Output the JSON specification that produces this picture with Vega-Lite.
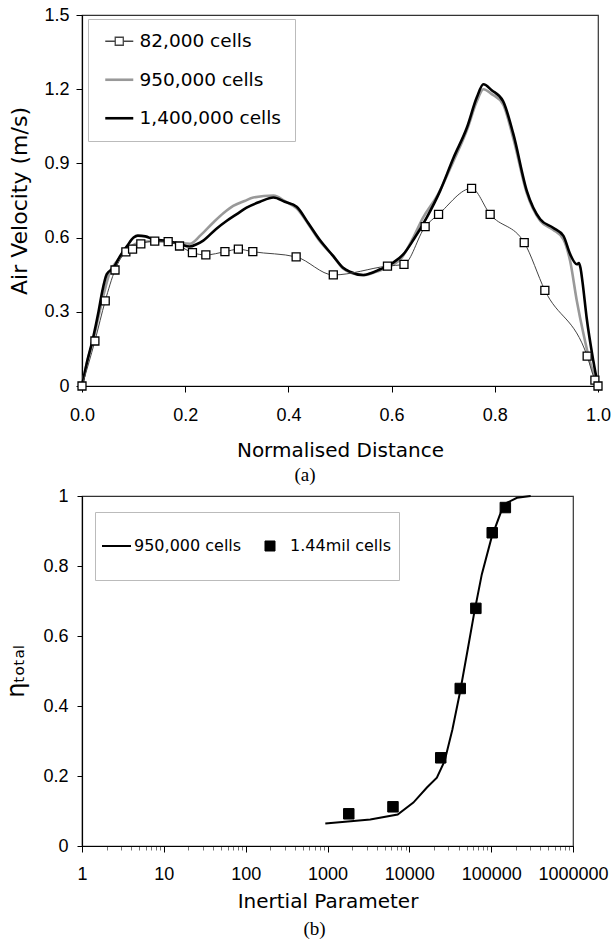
{
  "$schema": "https://vega.github.io/schema/vega-lite/v6.json",
  "background": "white",
  "padding": {"left": 4, "top": 5, "right": 0, "bottom": 0},
  "bounds": "flush",
  "spacing": 110,
  "config": {
    "view": {"stroke": "#333333", "strokeWidth": 1.2},
    "axis": {"grid": false, "labelFlush": false, "domainColor": "#000000", "domainWidth": 1.2, "tickColor": "#000000", "tickSize": 6, "labelFont": "Liberation Sans", "labelFontSize": 18, "labelColor": "#000000", "titleFont": "DejaVu Sans", "titleFontSize": 20, "titleFontWeight": "normal", "titleColor": "#000000"}
  },
  "resolve": {"scale": {"color": "independent"}, "legend": {"color": "independent"}},
  "datasets": {
    "top": [
      {"d": 0.0, "v": 0.0, "s": "950,000 cells"},
      {"d": 0.009, "v": 0.09, "s": "950,000 cells"},
      {"d": 0.021, "v": 0.18, "s": "950,000 cells"},
      {"d": 0.033, "v": 0.29, "s": "950,000 cells"},
      {"d": 0.042, "v": 0.37, "s": "950,000 cells"},
      {"d": 0.054, "v": 0.46, "s": "950,000 cells"},
      {"d": 0.066, "v": 0.5, "s": "950,000 cells"},
      {"d": 0.08, "v": 0.535, "s": "950,000 cells"},
      {"d": 0.095, "v": 0.565, "s": "950,000 cells"},
      {"d": 0.112, "v": 0.58, "s": "950,000 cells"},
      {"d": 0.14, "v": 0.585, "s": "950,000 cells"},
      {"d": 0.17, "v": 0.582, "s": "950,000 cells"},
      {"d": 0.19, "v": 0.578, "s": "950,000 cells"},
      {"d": 0.209, "v": 0.575, "s": "950,000 cells"},
      {"d": 0.23, "v": 0.61, "s": "950,000 cells"},
      {"d": 0.254, "v": 0.66, "s": "950,000 cells"},
      {"d": 0.275, "v": 0.7, "s": "950,000 cells"},
      {"d": 0.293, "v": 0.728, "s": "950,000 cells"},
      {"d": 0.315, "v": 0.748, "s": "950,000 cells"},
      {"d": 0.332, "v": 0.762, "s": "950,000 cells"},
      {"d": 0.371, "v": 0.77, "s": "950,000 cells"},
      {"d": 0.395, "v": 0.745, "s": "950,000 cells"},
      {"d": 0.416, "v": 0.718, "s": "950,000 cells"},
      {"d": 0.44, "v": 0.65, "s": "950,000 cells"},
      {"d": 0.461, "v": 0.585, "s": "950,000 cells"},
      {"d": 0.487, "v": 0.525, "s": "950,000 cells"},
      {"d": 0.506, "v": 0.475, "s": "950,000 cells"},
      {"d": 0.525, "v": 0.455, "s": "950,000 cells"},
      {"d": 0.545, "v": 0.448, "s": "950,000 cells"},
      {"d": 0.567, "v": 0.46, "s": "950,000 cells"},
      {"d": 0.59, "v": 0.478, "s": "950,000 cells"},
      {"d": 0.62, "v": 0.52, "s": "950,000 cells"},
      {"d": 0.642, "v": 0.6, "s": "950,000 cells"},
      {"d": 0.661, "v": 0.681, "s": "950,000 cells"},
      {"d": 0.69, "v": 0.775, "s": "950,000 cells"},
      {"d": 0.72, "v": 0.91, "s": "950,000 cells"},
      {"d": 0.746, "v": 1.035, "s": "950,000 cells"},
      {"d": 0.765, "v": 1.15, "s": "950,000 cells"},
      {"d": 0.778, "v": 1.2, "s": "950,000 cells"},
      {"d": 0.794, "v": 1.18, "s": "950,000 cells"},
      {"d": 0.816, "v": 1.139, "s": "950,000 cells"},
      {"d": 0.836, "v": 1.0, "s": "950,000 cells"},
      {"d": 0.862, "v": 0.78, "s": "950,000 cells"},
      {"d": 0.888, "v": 0.668, "s": "950,000 cells"},
      {"d": 0.913, "v": 0.632, "s": "950,000 cells"},
      {"d": 0.933, "v": 0.593, "s": "950,000 cells"},
      {"d": 0.946, "v": 0.505, "s": "950,000 cells"},
      {"d": 0.959, "v": 0.344, "s": "950,000 cells"},
      {"d": 0.972, "v": 0.209, "s": "950,000 cells"},
      {"d": 0.984, "v": 0.101, "s": "950,000 cells"},
      {"d": 1.0, "v": 0.0, "s": "950,000 cells"},
      {"d": 0.0, "v": 0.0, "s": "1,400,000 cells"},
      {"d": 0.009, "v": 0.09, "s": "1,400,000 cells"},
      {"d": 0.021, "v": 0.19, "s": "1,400,000 cells"},
      {"d": 0.032, "v": 0.3, "s": "1,400,000 cells"},
      {"d": 0.039, "v": 0.38, "s": "1,400,000 cells"},
      {"d": 0.048, "v": 0.452, "s": "1,400,000 cells"},
      {"d": 0.061, "v": 0.478, "s": "1,400,000 cells"},
      {"d": 0.074, "v": 0.526, "s": "1,400,000 cells"},
      {"d": 0.087, "v": 0.565, "s": "1,400,000 cells"},
      {"d": 0.1, "v": 0.6, "s": "1,400,000 cells"},
      {"d": 0.108, "v": 0.608, "s": "1,400,000 cells"},
      {"d": 0.123, "v": 0.605, "s": "1,400,000 cells"},
      {"d": 0.138, "v": 0.593, "s": "1,400,000 cells"},
      {"d": 0.165, "v": 0.586, "s": "1,400,000 cells"},
      {"d": 0.188, "v": 0.575, "s": "1,400,000 cells"},
      {"d": 0.209, "v": 0.564, "s": "1,400,000 cells"},
      {"d": 0.222, "v": 0.573, "s": "1,400,000 cells"},
      {"d": 0.235, "v": 0.588, "s": "1,400,000 cells"},
      {"d": 0.26, "v": 0.635, "s": "1,400,000 cells"},
      {"d": 0.28, "v": 0.667, "s": "1,400,000 cells"},
      {"d": 0.3, "v": 0.695, "s": "1,400,000 cells"},
      {"d": 0.319, "v": 0.721, "s": "1,400,000 cells"},
      {"d": 0.345, "v": 0.745, "s": "1,400,000 cells"},
      {"d": 0.371, "v": 0.762, "s": "1,400,000 cells"},
      {"d": 0.393, "v": 0.745, "s": "1,400,000 cells"},
      {"d": 0.416, "v": 0.725, "s": "1,400,000 cells"},
      {"d": 0.438, "v": 0.66, "s": "1,400,000 cells"},
      {"d": 0.461, "v": 0.59, "s": "1,400,000 cells"},
      {"d": 0.487, "v": 0.525, "s": "1,400,000 cells"},
      {"d": 0.506, "v": 0.478, "s": "1,400,000 cells"},
      {"d": 0.519, "v": 0.462, "s": "1,400,000 cells"},
      {"d": 0.545, "v": 0.449, "s": "1,400,000 cells"},
      {"d": 0.578, "v": 0.472, "s": "1,400,000 cells"},
      {"d": 0.603, "v": 0.499, "s": "1,400,000 cells"},
      {"d": 0.623, "v": 0.533, "s": "1,400,000 cells"},
      {"d": 0.642, "v": 0.59, "s": "1,400,000 cells"},
      {"d": 0.668, "v": 0.681, "s": "1,400,000 cells"},
      {"d": 0.694, "v": 0.789, "s": "1,400,000 cells"},
      {"d": 0.72, "v": 0.923, "s": "1,400,000 cells"},
      {"d": 0.746, "v": 1.045, "s": "1,400,000 cells"},
      {"d": 0.765, "v": 1.166, "s": "1,400,000 cells"},
      {"d": 0.778, "v": 1.22, "s": "1,400,000 cells"},
      {"d": 0.794, "v": 1.196, "s": "1,400,000 cells"},
      {"d": 0.816, "v": 1.152, "s": "1,400,000 cells"},
      {"d": 0.836, "v": 1.018, "s": "1,400,000 cells"},
      {"d": 0.862, "v": 0.789, "s": "1,400,000 cells"},
      {"d": 0.888, "v": 0.674, "s": "1,400,000 cells"},
      {"d": 0.913, "v": 0.64, "s": "1,400,000 cells"},
      {"d": 0.933, "v": 0.607, "s": "1,400,000 cells"},
      {"d": 0.946, "v": 0.533, "s": "1,400,000 cells"},
      {"d": 0.959, "v": 0.492, "s": "1,400,000 cells"},
      {"d": 0.963, "v": 0.497, "s": "1,400,000 cells"},
      {"d": 0.966, "v": 0.478, "s": "1,400,000 cells"},
      {"d": 0.97, "v": 0.42, "s": "1,400,000 cells"},
      {"d": 0.978, "v": 0.276, "s": "1,400,000 cells"},
      {"d": 0.991, "v": 0.101, "s": "1,400,000 cells"},
      {"d": 1.0, "v": 0.0, "s": "1,400,000 cells"},
      {"d": 0.0, "v": 0.0, "s": "82,000 cells"},
      {"d": 0.025, "v": 0.182, "s": "82,000 cells"},
      {"d": 0.045, "v": 0.344, "s": "82,000 cells"},
      {"d": 0.064, "v": 0.469, "s": "82,000 cells"},
      {"d": 0.085, "v": 0.542, "s": "82,000 cells"},
      {"d": 0.098, "v": 0.553, "s": "82,000 cells"},
      {"d": 0.114, "v": 0.575, "s": "82,000 cells"},
      {"d": 0.141, "v": 0.586, "s": "82,000 cells"},
      {"d": 0.167, "v": 0.584, "s": "82,000 cells"},
      {"d": 0.189, "v": 0.566, "s": "82,000 cells"},
      {"d": 0.214, "v": 0.539, "s": "82,000 cells"},
      {"d": 0.24, "v": 0.53, "s": "82,000 cells"},
      {"d": 0.277, "v": 0.543, "s": "82,000 cells"},
      {"d": 0.303, "v": 0.553, "s": "82,000 cells"},
      {"d": 0.331, "v": 0.543, "s": "82,000 cells"},
      {"d": 0.415, "v": 0.522, "s": "82,000 cells"},
      {"d": 0.487, "v": 0.449, "s": "82,000 cells"},
      {"d": 0.592, "v": 0.485, "s": "82,000 cells"},
      {"d": 0.624, "v": 0.492, "s": "82,000 cells"},
      {"d": 0.665, "v": 0.644, "s": "82,000 cells"},
      {"d": 0.691, "v": 0.694, "s": "82,000 cells"},
      {"d": 0.755, "v": 0.799, "s": "82,000 cells"},
      {"d": 0.791, "v": 0.694, "s": "82,000 cells"},
      {"d": 0.857, "v": 0.58, "s": "82,000 cells"},
      {"d": 0.897, "v": 0.387, "s": "82,000 cells"},
      {"d": 0.979, "v": 0.121, "s": "82,000 cells"},
      {"d": 0.994, "v": 0.024, "s": "82,000 cells"},
      {"d": 1.0, "v": 0.0, "s": "82,000 cells"}
    ],
    "bottom": [
      {"p": 940, "e": 0.064, "s2": "950,000 cells"},
      {"p": 1920, "e": 0.071, "s2": "950,000 cells"},
      {"p": 3330, "e": 0.076, "s2": "950,000 cells"},
      {"p": 7200, "e": 0.09, "s2": "950,000 cells"},
      {"p": 11200, "e": 0.124, "s2": "950,000 cells"},
      {"p": 16400, "e": 0.167, "s2": "950,000 cells"},
      {"p": 21700, "e": 0.195, "s2": "950,000 cells"},
      {"p": 27000, "e": 0.243, "s2": "950,000 cells"},
      {"p": 33600, "e": 0.333, "s2": "950,000 cells"},
      {"p": 41900, "e": 0.443, "s2": "950,000 cells"},
      {"p": 52200, "e": 0.567, "s2": "950,000 cells"},
      {"p": 61600, "e": 0.662, "s2": "950,000 cells"},
      {"p": 76800, "e": 0.776, "s2": "950,000 cells"},
      {"p": 101000, "e": 0.881, "s2": "950,000 cells"},
      {"p": 133000, "e": 0.957, "s2": "950,000 cells"},
      {"p": 157000, "e": 0.981, "s2": "950,000 cells"},
      {"p": 207000, "e": 0.995, "s2": "950,000 cells"},
      {"p": 304000, "e": 1.0, "s2": "950,000 cells"},
      {"p": 1820, "e": 0.092, "s2": "1.44mil cells"},
      {"p": 6310, "e": 0.112, "s2": "1.44mil cells"},
      {"p": 24200, "e": 0.252, "s2": "1.44mil cells"},
      {"p": 41900, "e": 0.45, "s2": "1.44mil cells"},
      {"p": 65000, "e": 0.679, "s2": "1.44mil cells"},
      {"p": 103000, "e": 0.895, "s2": "1.44mil cells"},
      {"p": 149000, "e": 0.967, "s2": "1.44mil cells"}
    ]
  },
  "vconcat": [
    {
      "width": 516,
      "height": 371,
      "title": {"text": "(a)", "orient": "bottom", "font": "Liberation Serif", "fontSize": 19, "fontWeight": "normal", "color": "#000000", "dx": -35, "offset": 6},
      "data": {"name": "top"},
      "encoding": {
        "x": {"field": "d", "type": "quantitative", "scale": {"domain": [0, 1], "nice": false},
              "axis": {"title": "Normalised Distance", "values": [0, 0.2, 0.4, 0.6, 0.8, 1.0], "format": ".1f", "labelPadding": 14, "titlePadding": 16}},
        "y": {"field": "v", "type": "quantitative", "scale": {"domain": [0, 1.5], "nice": false},
              "axis": {"title": "Air Velocity (m/s)", "titleFontSize": 22, "values": [0, 0.3, 0.6, 0.9, 1.2, 1.5], "format": "~g", "labelPadding": 7, "titlePadding": 12}}
      },
      "layer": [
        {
          "transform": [{"filter": "datum.s === '950,000 cells'"}],
          "mark": {"type": "line", "strokeWidth": 2.6, "interpolate": "monotone"},
          "encoding": {
            "color": {"field": "s", "type": "nominal",
              "scale": {"domain": ["82,000 cells", "950,000 cells", "1,400,000 cells"], "range": ["#444444", "#999999", "#000000"]},
              "legend": {
                "title": null, "orient": "none", "legendX": 6, "legendY": 4,
                "padding": 13, "rowPadding": 19.5, "labelFont": "DejaVu Sans", "labelFontSize": 18.5, "labelColor": "#000000",
                "labelOffset": 20, "symbolSize": 342, "symbolStrokeWidth": 1.5,
                "strokeColor": "#bbbbbb", "fillColor": "#ffffff",
                "encode": {
                  "symbols": {
                    "update": {
                      "shape": {"signal": "datum.value === '82,000 cells' ? 'M-0.54,0H0.54M1.41,0H2.49M0.54,-0.43H1.41V0.43H0.54Z' : 'M-0.54,0H2.49'"},
                      "stroke": {"signal": "datum.value === '82,000 cells' ? '#333333' : datum.value === '950,000 cells' ? '#999999' : '#000000'"},
                      "strokeWidth": {"signal": "datum.value === '82,000 cells' ? 1.3 : 2.6"},
                      "fill": {"value": "#ffffff"},
                      "opacity": {"value": 1}
                    }
                  }
                }
              }
            }
          }
        },
        {
          "transform": [{"filter": "datum.s === '1,400,000 cells'"}],
          "mark": {"type": "line", "strokeWidth": 2.6, "interpolate": "monotone"},
          "encoding": {"color": {"field": "s", "type": "nominal"}}
        },
        {
          "transform": [{"filter": "datum.s === '82,000 cells'"}],
          "mark": {"type": "line", "strokeWidth": 1, "interpolate": "monotone"},
          "encoding": {"color": {"field": "s", "type": "nominal"}}
        },
        {
          "transform": [{"filter": "datum.s === '82,000 cells'"}],
          "mark": {"type": "point", "shape": "square", "size": 64, "filled": true, "fill": "#ffffff", "stroke": "#000000", "strokeWidth": 1.3, "opacity": 1}
        }
      ]
    },
    {
      "width": 491,
      "height": 350,
      "title": {"text": "(b)", "orient": "bottom", "font": "Liberation Serif", "fontSize": 19, "fontWeight": "normal", "color": "#000000", "dx": -13, "offset": 9},
      "data": {"name": "bottom"},
      "encoding": {
        "x": {"field": "p", "type": "quantitative", "scale": {"type": "log", "domain": [1, 1000000], "nice": false},
              "axis": {"title": "Inertial Parameter",
                "values": [1,2,3,4,5,6,7,8,9,10,20,30,40,50,60,70,80,90,100,200,300,400,500,600,700,800,900,1000,2000,3000,4000,5000,6000,7000,8000,9000,10000,20000,30000,40000,50000,60000,70000,80000,90000,100000,200000,300000,400000,500000,600000,700000,800000,900000,1000000],
                "labelExpr": "indexof([1,10,100,1000,10000,100000,1000000], datum.value) >= 0 ? format(datum.value, 'd') : ''",
                "labelOverlap": false, "labelBound": false, "labelFlush": false,
                "tickSize": {"condition": {"test": "indexof([1,10,100,1000,10000,100000,1000000], datum.value) >= 0", "value": 6}, "value": 4},
                "tickColor": {"condition": {"test": "indexof([1,10,100,1000,10000,100000,1000000], datum.value) >= 0", "value": "#000000"}, "value": "#777777"},
                "labelPadding": 13, "titlePadding": 8}},
        "y": {"field": "e", "type": "quantitative", "scale": {"domain": [0, 1], "nice": false},
              "axis": {"title": "ηₜₒₜₐₗ", "titleFontSize": 24, "values": [0, 0.2, 0.4, 0.6, 0.8, 1], "format": "~g", "tickSize": 5, "labelPadding": 9, "titlePadding": 14}}
      },
      "layer": [
        {
          "transform": [{"filter": "datum.s2 === '950,000 cells'"}],
          "mark": {"type": "line", "strokeWidth": 2, "color": "#000000"},
          "encoding": {
            "color": {"field": "s2", "type": "nominal",
              "scale": {"domain": ["950,000 cells", "1.44mil cells"], "range": ["#000000", "#000000"]},
              "legend": {
                "title": null, "orient": "none", "legendX": 13, "legendY": 16, "direction": "horizontal", "columns": 2,
                "padding": 7, "columnPadding": 16, "labelFont": "DejaVu Sans", "labelFontSize": 16, "labelColor": "#000000",
                "labelOffset": 16, "symbolSize": 841, "symbolStrokeWidth": 0, "clipHeight": 54,
                "strokeColor": "#bbbbbb", "fillColor": "#ffffff",
                "encode": {
                  "symbols": {
                    "update": {
                      "shape": {"signal": "datum.value === '950,000 cells' ? 'M-0.552,0H1.448' : 'M-0.069,-0.345H0.621V0.345H-0.069Z'"},
                      "stroke": {"value": "#000000"},
                      "strokeWidth": {"signal": "datum.value === '950,000 cells' ? 2 : 1"},
                      "fill": {"value": "#000000"},
                      "opacity": {"value": 1}
                    }
                  }
                }
              }
            }
          }
        },
        {
          "transform": [{"filter": "datum.s2 === '1.44mil cells'"}],
          "mark": {"type": "point", "shape": "square", "size": 110, "filled": true, "fill": "#000000", "stroke": "#000000", "strokeWidth": 1, "opacity": 1}
        }
      ]
    }
  ]
}
